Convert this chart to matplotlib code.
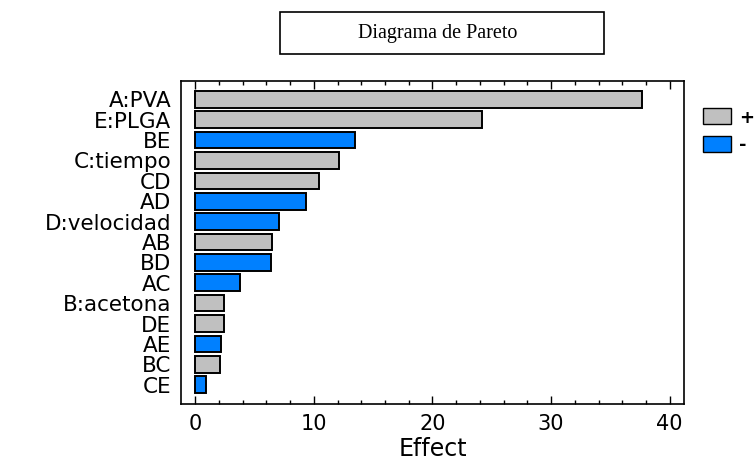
#!/usr/bin/env python3
"""Diagrama de Pareto: standardized effects, sorted, coloured by sign."""

import matplotlib
matplotlib.use("Agg")
import matplotlib.pyplot as plt
from matplotlib.patches import Patch, Rectangle
from matplotlib.ticker import MultipleLocator

# effects, top to bottom
factors = ["A:PVA", "E:PLGA", "BE", "C:tiempo", "CD", "AD", "D:velocidad",
           "AB", "BD", "AC", "B:acetona", "DE", "AE", "BC", "CE"]
effects = [37.7, 24.2, 13.5, 12.1, 10.4, 9.35, 7.1,
           6.5, 6.4, 3.8, 2.4, 2.4, 2.15, 2.05, 0.9]
signs = ["+", "+", "-", "+", "+", "-", "-",
         "+", "-", "-", "+", "+", "-", "+", "-"]

GRAY = "#c0c0c0"
BLUE = "#0080ff"
sign_colors = {"+": GRAY, "-": BLUE}
SANS = "DejaVu Sans"


def plot_pareto():
    fig = plt.figure(figsize=(7.56, 4.61), dpi=100)
    ax = fig.add_axes([0.2394, 0.1236, 0.6653, 0.7007])

    ypos = list(range(len(factors)))
    ax.barh(ypos, effects, height=0.82,
            color=[sign_colors[s] for s in signs],
            edgecolor="black", linewidth=1.4)

    ax.set_ylim(14.95, -0.9)
    ax.set_xlim(-1.2, 41.2)
    ax.set_yticks(ypos)
    ax.set_yticklabels(factors, family=SANS, fontsize=15.5)
    ax.tick_params(axis="y", length=0, pad=7)

    ax.xaxis.set_major_locator(MultipleLocator(10))
    ax.xaxis.set_minor_locator(MultipleLocator(2))
    ax.tick_params(axis="x", which="both", direction="in", top=True,
                   width=1, labelsize=15, pad=7)
    ax.tick_params(axis="x", which="major", length=6)
    ax.tick_params(axis="x", which="minor", length=3)
    for lab in ax.get_xticklabels():
        lab.set_family(SANS)
    ax.set_xlabel("Effect", family=SANS, fontsize=17, labelpad=2)

    for sp in ax.spines.values():
        sp.set_linewidth(1.2)

    # title in a framed box above the plot
    fig.patches.append(Rectangle((0.3704, 0.8829), 0.4286, 0.0911,
                                 transform=fig.transFigure, fill=False,
                                 edgecolor="black", linewidth=1.2))
    fig.text(0.579, 0.928, "Diagrama de Pareto", ha="center", va="center",
             family="Liberation Serif", fontsize=14.5)

    handles = [Patch(facecolor=GRAY, edgecolor="black", label="+"),
               Patch(facecolor=BLUE, edgecolor="black", label="-")]
    fig.legend(handles=handles, loc="upper left",
               bbox_to_anchor=(0.930, 0.765), frameon=False,
               prop={"family": SANS, "size": 13, "weight": "bold"},
               handlelength=1.55, handleheight=1.0, labelspacing=0.5,
               handletextpad=0.45, borderaxespad=0, borderpad=0)

    fig.savefig("out.png", dpi=100)


if __name__ == "__main__":
    plot_pareto()
